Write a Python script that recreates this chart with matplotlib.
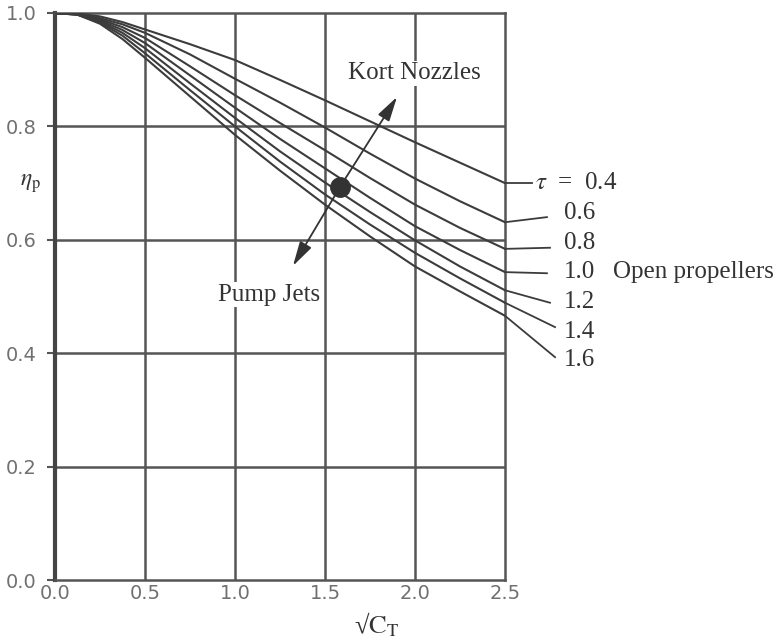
import matplotlib
matplotlib.use("Agg")
import matplotlib.pyplot as plt

# sqrt(C_T) sample positions and propulsive efficiency for each tau
sqrt_ct = [0.0, 0.125, 0.25, 0.375, 0.5, 0.75, 1.0, 1.25, 1.5, 1.75, 2.0, 2.25, 2.5]
tau_values = [0.4, 0.6, 0.8, 1.0, 1.2, 1.4, 1.6]
eta_tau_04 = [1.000, 0.999, 0.994, 0.984, 0.971, 0.945, 0.917, 0.882, 0.846, 0.809, 0.772, 0.736, 0.700]
eta_tau_06 = [1.000, 0.998, 0.991, 0.980, 0.965, 0.927, 0.884, 0.842, 0.798, 0.752, 0.708, 0.668, 0.631]
eta_tau_08 = [1.000, 0.998, 0.989, 0.975, 0.956, 0.906, 0.855, 0.806, 0.758, 0.709, 0.662, 0.621, 0.584]
eta_tau_10 = [1.000, 0.998, 0.987, 0.970, 0.947, 0.890, 0.833, 0.778, 0.726, 0.674, 0.624, 0.582, 0.543]
eta_tau_12 = [1.000, 0.997, 0.985, 0.965, 0.938, 0.876, 0.815, 0.756, 0.701, 0.649, 0.599, 0.553, 0.511]
eta_tau_14 = [1.000, 0.997, 0.983, 0.960, 0.929, 0.864, 0.800, 0.738, 0.680, 0.627, 0.577, 0.532, 0.489]
eta_tau_16 = [1.000, 0.997, 0.981, 0.954, 0.921, 0.853, 0.785, 0.722, 0.662, 0.606, 0.553, 0.509, 0.466]
eta_curves = [eta_tau_04, eta_tau_06, eta_tau_08, eta_tau_10, eta_tau_12, eta_tau_14, eta_tau_16]

# design point marked on the open-propeller curve
design_point = (1.583, 0.693)

x_ticks = [0.0, 0.5, 1.0, 1.5, 2.0, 2.5]
y_ticks = [0.0, 0.2, 0.4, 0.6, 0.8, 1.0]

plt.rcParams["mathtext.fontset"] = "stix"
serif = ["Liberation Serif", "DejaVu Serif"]

fig = plt.figure(figsize=(7.8, 6.4), dpi=100)
ax = fig.add_axes([55 / 780, 60 / 640, 450 / 780, 567 / 640])
ax.set_xlim(0, 2.5)
ax.set_ylim(0, 1.0)

grid_c = "#555555"
curve_c = "#3c3c3c"
for xv in x_ticks[1:-1]:
    ax.axvline(xv, color=grid_c, lw=1.8, zorder=1)
for yv in y_ticks[1:-1]:
    ax.axhline(yv, color=grid_c, lw=1.8, zorder=1)

for eta in eta_curves:
    ax.plot(sqrt_ct, eta, color=curve_c, lw=1.5, zorder=3, solid_joinstyle="round")

for side in ["top", "right", "bottom"]:
    ax.spines[side].set_linewidth(1.8)
    ax.spines[side].set_color(grid_c)
ax.spines["left"].set_linewidth(3.0)
ax.spines["left"].set_color("#444444")

ax.set_xticks(x_ticks)
ax.set_yticks(y_ticks)
ax.set_xticklabels([f"{v:.1f}" for v in x_ticks])
ax.set_yticklabels([f"{v:.1f}" for v in y_ticks])
ax.tick_params(axis="x", length=0, pad=3, labelsize=14, labelcolor="#707070")
ax.tick_params(axis="y", length=6, width=1.5, color=grid_c, pad=7,
               labelsize=14, labelcolor="#707070")

# tau labels with leader lines from each curve end
leader_ends = [(2.65, 0.700), (2.733, 0.640), (2.75, 0.586), (2.733, 0.541),
               (2.75, 0.489), (2.778, 0.446), (2.778, 0.393)]
label_y = [0.700, 0.647, 0.594, 0.543, 0.490, 0.437, 0.388]
for tau, eta, (lx, ly), ty in zip(tau_values, eta_curves, leader_ends, label_y):
    ax.plot([sqrt_ct[-1], lx], [eta[-1], ly], color=curve_c, lw=1.3,
            clip_on=False, zorder=3)
    if tau == tau_values[0]:
        ax.text(2.667, ty, r"$\tau$  =  " + f"{tau:.1f}", fontsize=18,
                family=serif, ha="left", va="center", color="#333333", clip_on=False)
    else:
        ax.text(3.0, ty, f"{tau:.1f}", fontsize=18, family=serif,
                ha="right", va="center", color="#333333", clip_on=False)
ax.text(3.1, label_y[3], "Open propellers", fontsize=18, family=serif,
        ha="left", va="center", color="#333333", clip_on=False)

# design point and direction arrows
ax.plot(*design_point, "o", color="#333333", ms=14, zorder=5)
arrow_kw = dict(arrowstyle="-|>,head_length=1.5,head_width=0.4",
                color="#333333", lw=1.3, shrinkA=0, shrinkB=0)
ax.annotate("", xy=(1.90, 0.852), xytext=design_point, arrowprops=arrow_kw, zorder=4)
ax.annotate("", xy=(1.322, 0.554), xytext=design_point, arrowprops=arrow_kw, zorder=4)
ax.text(1.997, 0.894, "Kort Nozzles", fontsize=18, family=serif,
        ha="center", va="center", color="#333333", zorder=6,
        bbox=dict(facecolor="white", edgecolor="none", pad=1))
ax.text(1.189, 0.503, "Pump Jets", fontsize=18, family=serif,
        ha="center", va="center", color="#333333", zorder=6,
        bbox=dict(facecolor="white", edgecolor="none", pad=1))

# axis labels
ax.text(-0.139, 0.700, r"$\eta_{\mathrm{p}}$", fontsize=17, ha="center",
        va="center", color="#333333", clip_on=False)
fig.text(377 / 780, 15 / 640, "\u221a" + r"$\mathrm{C}_{\mathrm{T}}$", fontsize=19,
         family=serif, ha="center", va="center", color="#333333")

fig.savefig("out.png", dpi=100, facecolor="white")
